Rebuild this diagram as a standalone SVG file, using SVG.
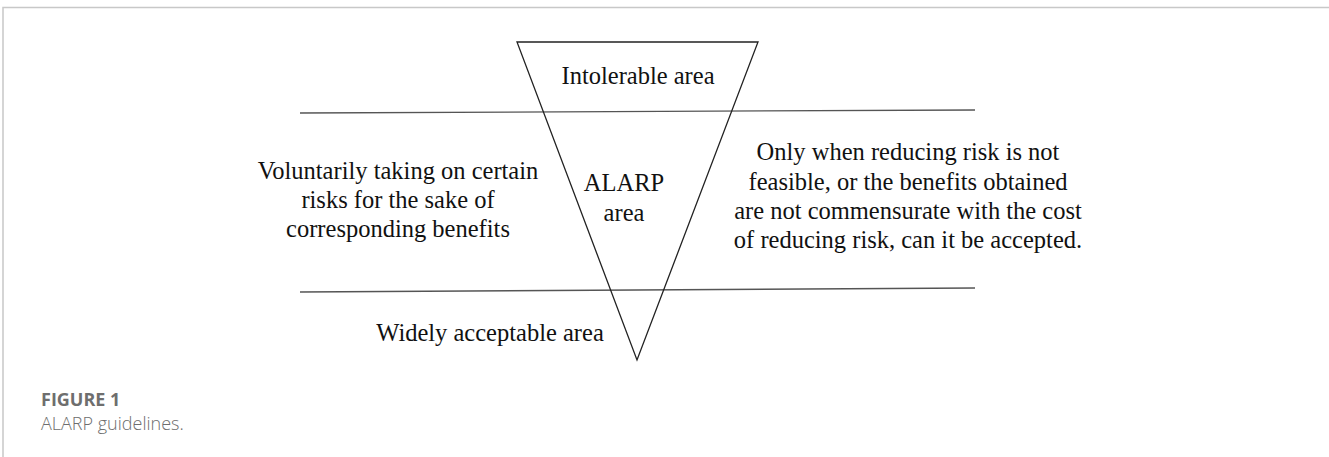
<svg xmlns="http://www.w3.org/2000/svg" width="1329" height="457" viewBox="0 0 1329 457">
<style>
.t{font-family:"Liberation Serif","Times New Roman",serif;font-size:24.5px;fill:#111;text-anchor:middle}
.ln{stroke:#555;stroke-width:1.3;fill:none}
.cap{font-family:"Open Sans","Noto Sans",sans-serif;fill:#6e6e6e}
</style>
<g id="frame"><path d="M3,457 V7.5 H1329" stroke="#c8c8c8" stroke-width="1.5" fill="none"/></g>
<g id="connectors">
<line class="ln" x1="300" y1="113" x2="975" y2="110"/>
<line class="ln" x1="300" y1="292" x2="975" y2="288"/>
</g>
<g id="triangle"><polygon points="517,42 758,42 637,360" fill="none" stroke="#222" stroke-width="1.3"/></g>
<g id="intolerable"><text class="t" x="638" y="84">Intolerable area</text></g>
<g id="alarp"><text class="t" x="624" y="191">ALARP</text><text class="t" x="624" y="221">area</text></g>
<g id="left"><text class="t" x="398" y="179">Voluntarily taking on certain</text><text class="t" x="398" y="208">risks for the sake of</text><text class="t" x="398" y="237">corresponding benefits</text></g>
<g id="right"><text class="t" x="908" y="160">Only when reducing risk is not</text><text class="t" x="908" y="190">feasible, or the benefits obtained</text><text class="t" x="908" y="219">are not commensurate with the cost</text><text class="t" x="908" y="248">of reducing risk, can it be accepted.</text></g>
<g id="widely"><text class="t" x="490" y="341">Widely acceptable area</text></g>
<g id="caption"><text class="cap" x="41" y="406" font-size="18" font-weight="bold">FIGURE 1</text><text class="cap" x="41" y="430" font-size="18" font-weight="300">ALARP guidelines.</text></g>
</svg>
